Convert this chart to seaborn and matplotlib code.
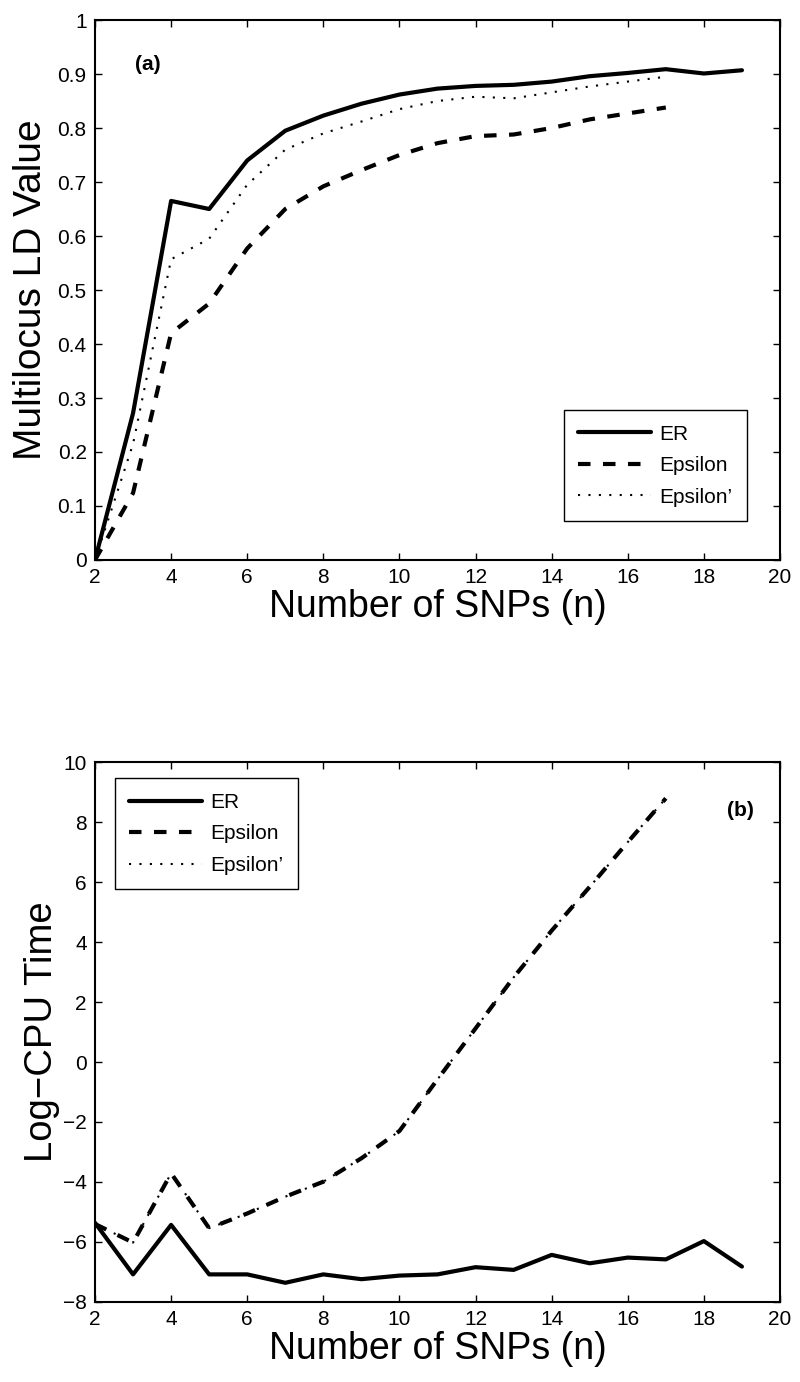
import numpy as np
import pandas as pd
import matplotlib
matplotlib.use("Agg")
import matplotlib.pyplot as plt
import seaborn as sns

# number of SNPs
snps_er = [2, 3, 4, 5, 6, 7, 8, 9, 10, 11, 12, 13, 14, 15, 16, 17, 18, 19]
snps_eps = [2, 3, 4, 5, 6, 7, 8, 9, 10, 11, 12, 13, 14, 15, 16, 17]

# (a) multilocus LD value
ld_er = [0.0, 0.272, 0.665, 0.650, 0.740, 0.795, 0.823, 0.845, 0.862, 0.873,
         0.878, 0.880, 0.886, 0.896, 0.902, 0.909, 0.901, 0.907]
ld_eps = [0.0, 0.124, 0.420, 0.475, 0.577, 0.650, 0.692, 0.722, 0.750, 0.772,
          0.785, 0.788, 0.800, 0.816, 0.827, 0.838]
ld_eps2 = [0.0, 0.215, 0.557, 0.595, 0.695, 0.760, 0.790, 0.812, 0.835, 0.850,
           0.858, 0.855, 0.866, 0.877, 0.886, 0.895]

# (b) log CPU time
cpu_er = [-5.36, -7.08, -5.43, -7.08, -7.08, -7.36, -7.08, -7.24, -7.12, -7.08,
          -6.84, -6.93, -6.43, -6.71, -6.52, -6.58, -5.97, -6.82]
cpu_eps = [-5.40, -6.02, -3.71, -5.54, -5.05, -4.49, -3.99, -3.21, -2.30, -0.58,
           1.12, 2.82, 4.38, 5.84, 7.33, 8.79]
cpu_eps2 = cpu_eps  # the two epsilon curves coincide

labels = ["ER", "Epsilon", "Epsilon\u2019"]
x_ticks = [2, 4, 6, 8, 10, 12, 14, 16, 18, 20]

sns.set_style("ticks")
plt.rcParams['font.family'] = ['Liberation Sans', 'DejaVu Sans']
plt.rcParams['text.color'] = 'black'
plt.rcParams['axes.labelcolor'] = 'black'

fig = plt.figure(figsize=(8, 13.82), dpi=100)
ax1 = fig.add_axes([0.11875, 0.5948, 0.85625, 0.3907])
ax2 = fig.add_axes([0.11875, 0.0579, 0.85625, 0.3907])

styles = [
    dict(linestyle="-", linewidth=3.0),
    dict(linestyle=(0, (3, 3)), linewidth=3.0),
    dict(linestyle=(0, (1, 4)), linewidth=1.5),
]


def draw(ax, series):
    for (xs, ys), lab, st in zip(series, labels, styles):
        sns.lineplot(x=xs, y=ys, ax=ax, color="black", label=lab, **st)


draw(ax1, [(snps_er, ld_er), (snps_eps, ld_eps), (snps_eps, ld_eps2)])
draw(ax2, [(snps_er, cpu_er), (snps_eps, cpu_eps), (snps_eps, cpu_eps2)])

ax1.set_xlim(2, 20)
ax1.set_ylim(0, 1)
ax1.set_yticks(np.arange(0, 1.01, 0.1))
ax1.set_yticklabels(["0", "0.1", "0.2", "0.3", "0.4", "0.5", "0.6", "0.7", "0.8", "0.9", "1"])
ax1.set_ylabel("Multilocus LD Value", fontsize=28, labelpad=6)

ax2.set_xlim(2, 20)
ax2.set_ylim(-8, 10)
ax2.set_yticks(range(-8, 11, 2))
ax2.set_ylabel("Log\u2212CPU Time", fontsize=27.5, labelpad=2)

for ax in (ax1, ax2):
    ax.set_xticks(x_ticks)
    ax.set_xlabel("Number of SNPs (n)", fontsize=27, labelpad=1)
    ax.tick_params(direction="in", length=5, width=1, top=True, right=True,
                   labelsize=15, pad=6, colors="black")
    for sp in ax.spines.values():
        sp.set_visible(True)
        sp.set_linewidth(1.5)
        sp.set_color("black")

leg_kw = dict(fontsize=15, frameon=True, fancybox=False, edgecolor="black",
              framealpha=1, handlelength=3.5, labelspacing=0.6, borderpad=0.7,
              handletextpad=0.4, borderaxespad=0)
leg1 = ax1.legend(loc="lower right", bbox_to_anchor=(0.952, 0.072), **leg_kw)
leg2 = ax2.legend(loc="upper left", bbox_to_anchor=(0.029, 0.970), **leg_kw)
for lg in (leg1, leg2):
    lg.get_frame().set_linewidth(1.0)

ax1.text(3.39, 0.918, "(a)", fontsize=15, fontweight="bold", ha="center", va="center")
ax2.text(18.97, 8.4, "(b)", fontsize=15, fontweight="bold", ha="center", va="center")

fig.savefig("out.png", dpi=100)
